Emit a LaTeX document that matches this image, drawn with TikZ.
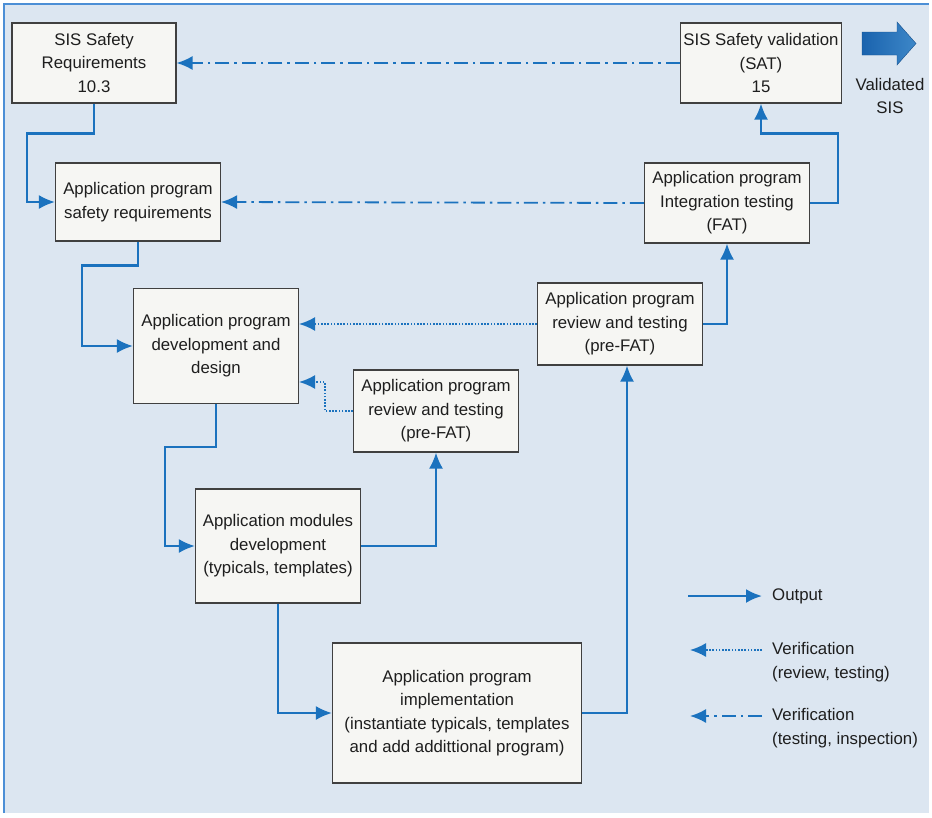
\documentclass[tikz,border=0pt]{standalone}
\usepackage{fontspec}
\setmainfont{Liberation Sans}
\usetikzlibrary{arrows.meta,positioning}

\definecolor{bgblue}{HTML}{DCE6F1}
\definecolor{frameblue}{HTML}{4C8FD6}
\definecolor{lineblue}{HTML}{1B72BE}
\definecolor{bigblue}{HTML}{1A63AE}
\definecolor{boxfill}{HTML}{F6F6F3}
\definecolor{ink}{HTML}{1E1E1E}

\begin{document}
\begin{tikzpicture}[
x=1pt,y=-1pt,
stage/.style={
  draw=black!75,
  fill=boxfill,
  line width=1.1pt,
  align=center,
  inner sep=0pt,
  text=ink,
  font=\fontsize{16.8}{23.5}\selectfont,
  minimum width=165pt
  },
legend/.style={
  align=left,
  anchor=west,
  inner sep=0pt,
  text=ink,
  font=\fontsize{16.8}{23.5}\selectfont
  },
output/.style={->, draw=lineblue, line width=2.3pt},
review/.style={->, draw=lineblue, line width=1.8pt, dash pattern=on 1.6pt off 1.6pt},
inspect/.style={->, draw=lineblue, line width=1.8pt, dash pattern=on 14pt off 5pt on 2.5pt off 5pt},
>={Latex[length=16pt,width=14pt]}
]
\useasboundingbox (0,0) rectangle (932,817);
\fill[bgblue] (4,4) rectangle (929,813);
\draw[frameblue, line width=1.5pt] (4,813) -- (4,4) -- (929,4);

% stages
\node[stage, minimum width=164pt, minimum height=80pt] (sisreq) at (94,63) {SIS Safety\\Requirements\\10.3};
\node[stage, minimum width=161pt, minimum height=80pt] (sisval) at (761,63) {SIS Safety validation\\(SAT)\\15};
\node[stage, minimum height=78pt] (apsr) at (138,202) {Application program\\safety requirements};
\node[stage, minimum height=80pt] (apit) at (727,203) {Application program\\Integration testing\\(FAT)};
\node[stage, minimum height=115pt] (apdd) at (216,346) {Application program\\development and\\design};
\node[stage, minimum height=82pt] (aprtr) at (620,324) {Application program\\review and testing\\(pre-FAT)};
\node[stage, minimum height=82pt] (aprtm) at (436,411) {Application program\\review and testing\\(pre-FAT)};
\node[stage, minimum height=114pt] (amd) at (278,546) {Application modules\\development\\(typicals, templates)};
\node[stage, minimum width=249pt, minimum height=140pt] (api) at (457,713) {Application program\\implementation\\(instantiate typicals, templates\\and add addittional program)};

% validated SIS
\shade[left color=bigblue, right color=lineblue!85, draw=bigblue!80!black]
  (862,32) -- (897,32) -- (897,22) -- (916,43.5) -- (897,65) -- (897,55) -- (862,55) -- cycle;
\node[legend, anchor=center, align=center] (valsis) at (890,96) {Validated\\SIS};

% output flow
\draw[output] (sisreq.south) -- ++(0,30) -| ([xshift=-28pt]apsr.west) -- (apsr.west);
\draw[output] (apsr.south) -- ++(0,24) -| ([xshift=-51pt]apdd.west) -- (apdd.west);
\draw[output] (apdd.south) -- ++(0,43) -| ([xshift=-30pt]amd.west) -- (amd.west);
\draw[output] (amd.south) |- (api.west);
\draw[output] (amd.east) -| (aprtm.south);
\draw[output] (api.east) -| ([xshift=7pt]aprtr.south);
\draw[output] (aprtr.east) -| (apit.south);
\draw[output] (apit.east) -- ++(28,0) |- ([yshift=-30pt]sisval.south) -- (sisval.south);

% verification
\draw[inspect] (sisval.west) -- (sisreq.east);
\draw[inspect] (apit.west) -- (apsr.east);
\draw[review] (aprtr.west) -- (aprtr.west -| apdd.east);
\draw[review] (aprtm.west) -- ++(-28,0) |- ([yshift=-36pt]apdd.east);

% legend
\node[legend] (lgout) at (772,596) {Output};
\node[legend] (lgrev) at (772,662) {Verification\\(review, testing)};
\node[legend] (lgins) at (772,728) {Verification\\(testing, inspection)};
\coordinate (lgouta) at (688,596);
\coordinate (lgreva) at (690,650);
\coordinate (lginsa) at (690,716);
\draw[output] (lgouta) -- ([xshift=-10pt]lgout.west);
\draw[review] ([xshift=-10pt]lgreva -| lgrev.west) -- (lgreva);
\draw[inspect] ([xshift=-10pt]lginsa -| lgins.west) -- (lginsa);
\end{tikzpicture}
\end{document}
